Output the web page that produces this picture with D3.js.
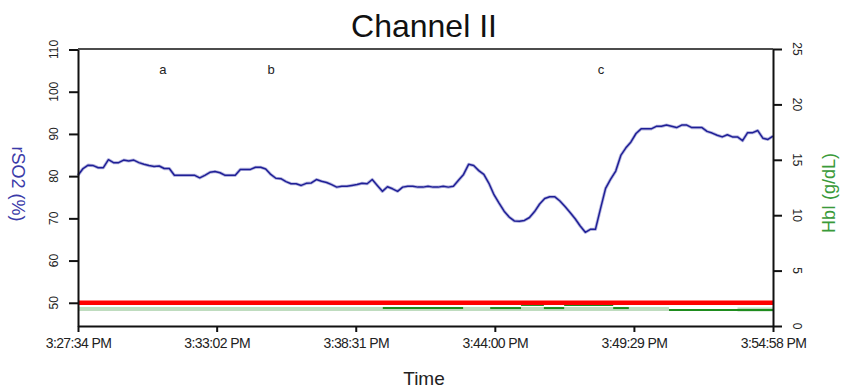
<!DOCTYPE html>
<html>
<head>
<meta charset="utf-8">
<script src="https://cdn.jsdelivr.net/npm/d3@7"></script>
<style>
  html, body { margin: 0; padding: 0; background: #fff; }
  svg { display: block; font-family: Arial, "Liberation Sans", sans-serif; }
</style>
</head>
<body>
<svg id="chart" width="850" height="389"></svg>
<script>
// ---- data ----
const chartTitle = "Channel II";
const timeTickLabels = ["3:27:34 PM", "3:33:02 PM", "3:38:31 PM", "3:44:00 PM", "3:49:29 PM", "3:54:58 PM"];
const rso2Ticks = [50, 60, 70, 80, 90, 100, 110];
const hbTicks = [0, 5, 10, 15, 20, 25];

// rSO2 (%) sampled every 12 s from 3:27:34 PM
const rso2StepSeconds = 12;
const rso2Values = [
  80.2, 81.8, 82.6, 82.5, 82.0, 82.0, 83.9, 83.2, 83.2, 83.8,
  83.6, 83.8, 83.2, 82.8, 82.5, 82.3, 82.4, 81.8, 81.8, 80.2,
  80.2, 80.2, 80.2, 80.2, 79.6, 80.2, 80.9, 81.1, 80.8, 80.2,
  80.2, 80.2, 81.6, 81.6, 81.6, 82.1, 82.1, 81.7, 80.4, 79.5,
  79.4, 78.7, 78.2, 78.2, 77.8, 78.3, 78.4, 79.2, 78.8, 78.5,
  78.0, 77.4, 77.6, 77.6, 77.8, 78.0, 78.3, 78.2, 79.2, 77.8,
  76.4, 77.5, 77.0, 76.4, 77.4, 77.6, 77.6, 77.4, 77.4, 77.6,
  77.4, 77.4, 77.6, 77.4, 77.6, 79.0, 80.4, 82.8, 82.5, 81.3,
  80.4, 78.3, 75.6, 73.6, 71.7, 70.3, 69.4, 69.3, 69.5, 70.2,
  71.6, 73.4, 74.7, 75.1, 75.1, 74.1, 72.8, 71.4, 69.9, 68.2,
  66.7, 67.4, 67.4, 72.3, 77.1, 79.3, 81.2, 84.9, 86.7, 88.1,
  90.1, 91.2, 91.2, 91.2, 91.8, 91.8, 92.1, 91.8, 91.5, 92.1,
  92.1, 91.5, 91.5, 91.5, 90.6, 90.2, 89.7, 89.3, 89.8, 89.3,
  89.3, 88.4, 90.3, 90.3, 90.8, 89.0, 88.7, 89.5
];

// rSO2 alarm threshold (%)
const rso2Threshold = 50;

// HbI (g/dL) readings: segment start / end (seconds from 3:27:34 PM) and level
const hbStart = [721, 975, 1048, 1102, 1150, 1266, 1398];
const hbEnd   = [911, 1048, 1102, 1150, 1266, 1303, 1644];
const hbLevel = [1.62, 1.62, 1.9, 1.62, 1.9, 1.62, 1.44];

// HbI reference band
const hbBandStart = [0, 1560];
const hbBandEnd   = [1398, 1644];
const hbBandLevel = [1.53, 1.5];

// event markers
const eventLabels = ["a", "b", "c"];
const eventOffsets = [201, 457, 1237];

// ---- layout ----
const svg = d3.select("#chart");
const W = 850, H = 389;
const plotL = 78, plotR = 773, plotT = 49, plotB = 326;

const parseTime = d3.timeParse("%I:%M:%S %p");
const tickDates = timeTickLabels.map(parseTime);
const t0 = tickDates[0];
const tAt = s => new Date(t0.getTime() + s * 1000);

const x = d3.scaleTime().domain([t0, tickDates[tickDates.length - 1]]).range([plotL, plotR]);
const yL = d3.scaleLinear().domain([44.5, 110]).range([plotB, plotT + 0.5]);
const yR = d3.scaleLinear().domain([0, 25]).range([plotB, plotT]);

// title
svg.append("text")
  .attr("x", 424).attr("y", 37)
  .attr("text-anchor", "middle")
  .attr("font-size", 32)
  .attr("fill", "#111")
  .text(chartTitle);

const g = svg.append("g");

// HbI band
g.selectAll("line.band").data(hbBandLevel).join("line")
  .attr("class", "band")
  .attr("x1", (d, i) => x(tAt(hbBandStart[i])))
  .attr("x2", (d, i) => x(tAt(hbBandEnd[i])))
  .attr("y1", d => yR(d)).attr("y2", d => yR(d))
  .attr("stroke", "#bfdcbf").attr("stroke-width", 4);

// HbI readings
g.selectAll("line.hb").data(hbLevel).join("line")
  .attr("class", "hb")
  .attr("x1", (d, i) => x(tAt(hbStart[i])))
  .attr("x2", (d, i) => x(tAt(hbEnd[i])))
  .attr("y1", d => yR(d)).attr("y2", d => yR(d))
  .attr("stroke", "#1e8c1e").attr("stroke-width", 2);

// threshold line
g.append("line")
  .attr("x1", plotL).attr("x2", plotR)
  .attr("y1", yL(rso2Threshold)).attr("y2", yL(rso2Threshold))
  .attr("stroke", "#ff0000").attr("stroke-width", 4.5);

// rSO2 trace (soft halo + core)
const rso2Line = d3.line()
  .x((d, i) => x(tAt(i * rso2StepSeconds)))
  .y(d => yL(d));
g.append("path")
  .datum(rso2Values)
  .attr("d", rso2Line)
  .attr("fill", "none")
  .attr("stroke", "#b8b8e0").attr("stroke-width", 3.2)
  .attr("stroke-linejoin", "round");
g.append("path")
  .datum(rso2Values)
  .attr("d", rso2Line)
  .attr("fill", "none")
  .attr("stroke", "#1f1f96").attr("stroke-width", 1.5)
  .attr("stroke-linejoin", "round");

// event markers
svg.selectAll("text.evt").data(eventLabels).join("text")
  .attr("class", "evt")
  .attr("x", (d, i) => x(tAt(eventOffsets[i])))
  .attr("y", 74)
  .attr("text-anchor", "middle")
  .attr("font-size", 13)
  .attr("fill", "#222")
  .text(d => d);

// frame top
svg.append("line")
  .attr("x1", plotL).attr("x2", plotR)
  .attr("y1", plotT).attr("y2", plotT)
  .attr("stroke", "#111").attr("stroke-width", 1.5);

// axes (tick labels drawn separately so they can be turned sideways)
function styleAxis(sel) {
  sel.select(".domain").attr("stroke", "#111").attr("stroke-width", 2);
  sel.selectAll(".tick line").attr("stroke", "#111").attr("stroke-width", 2);
}

svg.append("g")
  .attr("transform", `translate(${plotL},0)`)
  .call(d3.axisLeft(yL).tickValues(rso2Ticks).tickSize(9).tickSizeOuter(0).tickFormat(""))
  .call(styleAxis);
svg.append("g").selectAll("text").data(rso2Ticks).join("text")
  .attr("transform", d => `translate(${plotL - 24},${yL(d)}) rotate(-90)`)
  .attr("text-anchor", "middle")
  .attr("dominant-baseline", "central")
  .attr("font-size", 12)
  .attr("fill", "#222")
  .text(d => d);

svg.append("g")
  .attr("transform", `translate(${plotR},0)`)
  .call(d3.axisRight(yR).tickValues(hbTicks).tickSize(9).tickSizeOuter(0).tickFormat(""))
  .call(styleAxis);
svg.append("g").selectAll("text").data(hbTicks).join("text")
  .attr("transform", d => `translate(${plotR + 24},${yR(d)}) rotate(90)`)
  .attr("text-anchor", "middle")
  .attr("dominant-baseline", "central")
  .attr("font-size", 12)
  .attr("fill", "#222")
  .text(d => d);

const axB = svg.append("g")
  .attr("transform", `translate(0,${plotB})`)
  .call(d3.axisBottom(x).tickValues(tickDates).tickFormat(d3.timeFormat("%-I:%M:%S %p")).tickSize(6).tickSizeOuter(0))
  .call(styleAxis);
axB.selectAll(".tick text")
  .attr("y", 18).attr("dy", "0.32em")
  .attr("font-size", 14).attr("fill", "#222")
  .attr("letter-spacing", -0.6);

// axis titles
svg.append("text")
  .attr("transform", "translate(18,184) rotate(90)")
  .attr("text-anchor", "middle")
  .attr("dominant-baseline", "central")
  .attr("font-size", 18)
  .attr("fill", "#3a3aa8")
  .text("rSO2 (%)");

svg.append("text")
  .attr("transform", "translate(829,193) rotate(-90)")
  .attr("text-anchor", "middle")
  .attr("dominant-baseline", "central")
  .attr("font-size", 18)
  .attr("fill", "#3a9a3a")
  .text("HbI (g/dL)");

svg.append("text")
  .attr("x", 424).attr("y", 385)
  .attr("text-anchor", "middle")
  .attr("font-size", 19)
  .attr("fill", "#222")
  .text("Time");
</script>
</body>
</html>
